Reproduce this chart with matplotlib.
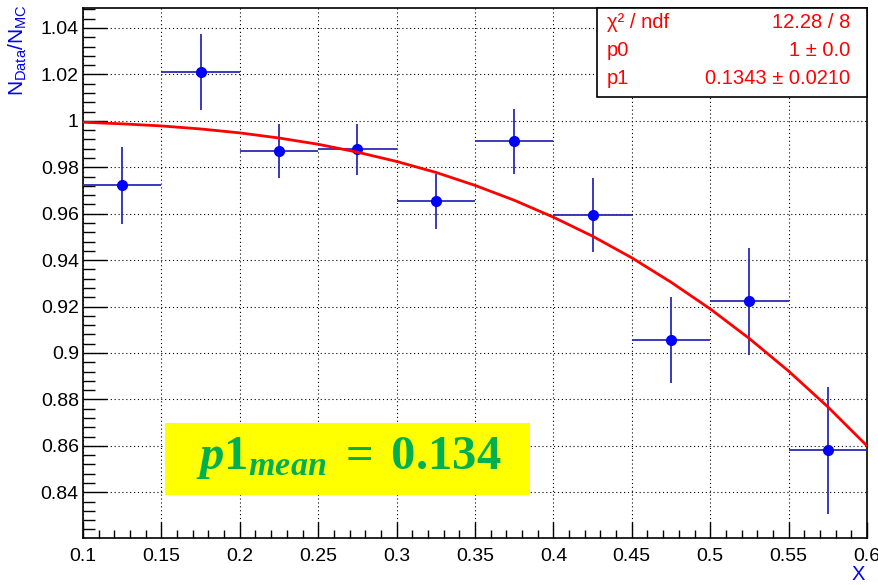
import numpy as np
import matplotlib.pyplot as plt
from matplotlib.patches import Rectangle
from matplotlib.ticker import MultipleLocator, FormatStrFormatter

plt.rcParams['font.family'] = ['Liberation Sans', 'DejaVu Sans']
plt.rcParams['mathtext.fontset'] = 'custom'
plt.rcParams['mathtext.it'] = 'Liberation Serif:italic:bold'
plt.rcParams['mathtext.rm'] = 'Liberation Serif:bold'
plt.rcParams['mathtext.bf'] = 'Liberation Serif:bold'
plt.rcParams['mathtext.sf'] = 'Liberation Sans'

# data points (bin centres, half widths, values, errors)
x_pts = [0.125, 0.175, 0.225, 0.275, 0.325, 0.375, 0.425, 0.475, 0.525, 0.575]
x_err = [0.025] * 10
y_pts = [0.9722, 1.0210, 0.9870, 0.9878, 0.9653, 0.9912, 0.9593, 0.9054, 0.9222, 0.8580]
y_err = [0.0165, 0.0165, 0.0115, 0.0110, 0.0120, 0.0140, 0.0160, 0.0185, 0.0230, 0.0275]

# fit curve
x_fit = [0.10, 0.125, 0.15, 0.175, 0.20, 0.225, 0.25, 0.275, 0.30, 0.325, 0.35,
         0.375, 0.40, 0.425, 0.45, 0.475, 0.50, 0.525, 0.55, 0.575, 0.60]
y_fit = [0.9994, 0.9987, 0.9978, 0.9965, 0.9948, 0.9926, 0.9899, 0.9865, 0.9825, 0.9778, 0.9722,
         0.9658, 0.9585, 0.9503, 0.9410, 0.9305, 0.9190, 0.9062, 0.8922, 0.8768, 0.8600]

stat_names = ['χ² / ndf', 'p0', 'p1']
stat_vals = ['12.28 / 8', '1 ± 0.0', '0.1343 ± 0.0210']

W, H = 879, 585
fig = plt.figure(figsize=(W / 100, H / 100), dpi=100)
ax = fig.add_axes([83 / W, 1 - 538 / H, 784 / W, 530 / H])

ax.errorbar(x_pts, y_pts, xerr=x_err, yerr=y_err, fmt='o', color='#0000ff',
            ecolor='#2a2ab8', elinewidth=1.3, markersize=7, capsize=0, zorder=3)
ax.plot(x_fit, y_fit, color='red', lw=2, zorder=4)

ax.set_xlim(0.1, 0.6)
ax.set_ylim(0.8203, 1.0486)
ax.xaxis.set_major_locator(MultipleLocator(0.05))
ax.xaxis.set_minor_locator(MultipleLocator(0.01))
ax.yaxis.set_major_locator(MultipleLocator(0.02))
ax.yaxis.set_minor_locator(MultipleLocator(0.004))
ax.xaxis.set_major_formatter(FormatStrFormatter('%g'))
ax.yaxis.set_major_formatter(FormatStrFormatter('%g'))

ax.tick_params(axis='x', which='major', direction='in', length=11.5, width=1, labelsize=14, pad=7)
ax.tick_params(axis='x', which='minor', direction='in', length=5.8, width=1)
ax.tick_params(axis='y', which='major', direction='in', length=17, width=1, labelsize=14, pad=3)
ax.tick_params(axis='y', which='minor', direction='in', length=8.5, width=1)
for s in ax.spines.values():
    s.set_linewidth(1.2)

ax.grid(True, which='major', color='black', linestyle=(0, (1, 2.5)), lw=0.8)
ax.set_axisbelow(True)

# axis titles
fig.text(18 / W, 1 - 4 / H, r'$\mathsf{N_{Data}/N_{MC}}$', rotation=90, ha='center', va='top',
         color='blue', fontsize=15)
fig.text(858 / W, 1 - 574 / H, 'X', ha='center', va='center', color='blue', fontsize=14.5)

# stats box
box = Rectangle(((597 - 83) / 784, (538 - 97) / 530), (867 - 597) / 784, 89 / 530,
                transform=ax.transAxes, facecolor='white', edgecolor='black', lw=1.2,
                zorder=10, clip_on=False)
ax.add_patch(box)
for i, (n, v) in enumerate(zip(stat_names, stat_vals)):
    yy = 1 - (23 + 28 * i) / H
    fig.text(607 / W, yy, n, color='red', fontsize=14.5, ha='left', va='center', zorder=11)
    fig.text(850 / W, yy, v, color='red', fontsize=14.5, ha='right', va='center', zorder=11)

# highlighted result
hl = Rectangle(((165 - 83) / 784, (538 - 495) / 530), 365 / 784, 72 / 530,
               transform=ax.transAxes, facecolor='#ffff00', edgecolor='none', zorder=8)
ax.add_patch(hl)
ax.text((349 - 83) / 784, (538 - 458) / 530, r'$p1_{mean}\;=\;0.134$', transform=ax.transAxes,
        color='#00b050', fontsize=35, ha='center', va='center', zorder=9)

fig.savefig('out.png', dpi=100)
